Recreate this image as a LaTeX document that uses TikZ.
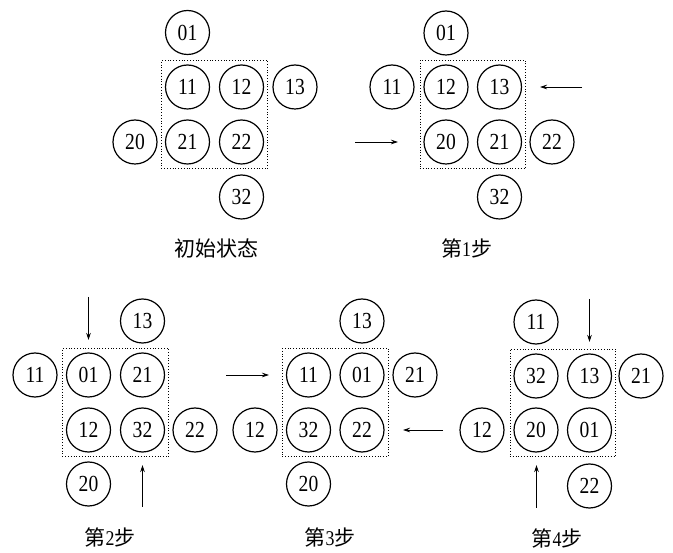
\documentclass[tikz,border=0pt]{standalone}
\usepackage{fontspec}
\usepackage{graphicx}
\setmainfont{Liberation Serif}
\newfontfamily\cjkfont{Noto Sans CJK SC}
\usetikzlibrary{arrows.meta,fit}
\newcommand\nm[1]{\scalebox{0.85}[1]{#1}}
\tikzset{
  ball/.style={circle, draw, line width=1.2pt, minimum size=44pt, inner sep=0pt,
    font=\fontsize{23}{23}\selectfont},
  grp/.style={draw, dotted, line width=0.8pt, inner xsep=3.5pt, inner ysep=4pt},
  mv/.style={-{Stealth[length=7pt,width=4.5pt]}, line width=0.7pt},
  steplabel/.style={font=\fontsize{21}{21}\selectfont}
}
\begin{document}
\begin{tikzpicture}[x=1pt,y=-1pt]
\useasboundingbox (0,0) rectangle (673,553);
% ---- initial state
\node[ball] (a01) at (187.5,32.5) {\nm{01}};
\node[ball] (a11) at (187.5,87) {\nm{11}};
\node[ball] (a12) at (241.5,87) {\nm{12}};
\node[ball] (a13) at (295,87) {\nm{13}};
\node[ball] (a20) at (135,142) {\nm{20}};
\node[ball] (a21) at (187.5,142) {\nm{21}};
\node[ball] (a22) at (241.5,142) {\nm{22}};
\node[ball] (a32) at (241.5,197) {\nm{32}};
\node[grp, fit=(a11)(a22)] (ga) {};
\node[steplabel] (la) at (216.7,248) {\cjkfont 初始状态};
% ---- step 1
\node[ball] (b01) at (446,33) {\nm{01}};
\node[ball] (b11) at (392,87) {\nm{11}};
\node[ball] (b12) at (446,87) {\nm{12}};
\node[ball] (b13) at (499.5,87) {\nm{13}};
\node[ball] (b20) at (446,142) {\nm{20}};
\node[ball] (b21) at (499.5,142) {\nm{21}};
\node[ball] (b22) at (552,142) {\nm{22}};
\node[ball] (b32) at (499.5,197) {\nm{32}};
\node[grp, fit=(b12)(b21)] (gb) {};
\node[steplabel] (lb) at (466.7,248) {{\cjkfont 第}\nm{1}{\cjkfont 步}};
\coordinate (b1s) at (355,142);
\coordinate (b1e) at (398,142);
\coordinate (b2s) at (582,87);
\coordinate (b2e) at (540,87);
\draw[mv] (b1s) -- (b1e);
\draw[mv] (b2s) -- (b2e);
% ---- step 2
\node[ball] (c13) at (142.5,321) {\nm{13}};
\node[ball] (c11) at (35,375) {\nm{11}};
\node[ball] (c01) at (88.5,375) {\nm{01}};
\node[ball] (c21) at (142.5,375) {\nm{21}};
\node[ball] (c12) at (88.5,430) {\nm{12}};
\node[ball] (c32) at (142.5,430) {\nm{32}};
\node[ball] (c22) at (195,430) {\nm{22}};
\node[ball] (c20) at (88.5,484) {\nm{20}};
\node[grp, fit=(c01)(c32)] (gc) {};
\node[steplabel] (lc) at (110,537) {{\cjkfont 第}\nm{2}{\cjkfont 步}};
\coordinate (c1s) at (88.5,297);
\coordinate (c1e) at (88.5,340);
\coordinate (c2s) at (142.5,507);
\coordinate (c2e) at (142.5,465);
\draw[mv] (c1s) -- (c1e);
\draw[mv] (c2s) -- (c2e);
% ---- step 3
\node[ball] (d13) at (362,321) {\nm{13}};
\node[ball] (d11) at (308.5,375) {\nm{11}};
\node[ball] (d01) at (362,375) {\nm{01}};
\node[ball] (d21) at (415,375) {\nm{21}};
\node[ball] (d12) at (255,430) {\nm{12}};
\node[ball] (d32) at (308.5,430) {\nm{32}};
\node[ball] (d22) at (362,430) {\nm{22}};
\node[ball] (d20) at (308.5,484) {\nm{20}};
\node[grp, fit=(d11)(d22)] (gd) {};
\node[steplabel] (ld) at (330,537) {{\cjkfont 第}\nm{3}{\cjkfont 步}};
\coordinate (d1s) at (226,375);
\coordinate (d1e) at (269,375);
\coordinate (d2s) at (443,430);
\coordinate (d2e) at (403,430);
\draw[mv] (d1s) -- (d1e);
\draw[mv] (d2s) -- (d2e);
% ---- step 4
\node[ball] (e11) at (536,322) {\nm{11}};
\node[ball] (e32) at (536,376) {\nm{32}};
\node[ball] (e13) at (589.5,376) {\nm{13}};
\node[ball] (e21) at (641,376) {\nm{21}};
\node[ball] (e12) at (482,430) {\nm{12}};
\node[ball] (e20) at (536,430) {\nm{20}};
\node[ball] (e01) at (589.5,430) {\nm{01}};
\node[ball] (e22) at (589.5,486) {\nm{22}};
\node[grp, fit=(e32)(e01)] (ge) {};
\node[steplabel] (le) at (557,538) {{\cjkfont 第}\nm{4}{\cjkfont 步}};
\coordinate (e1s) at (589.5,299);
\coordinate (e1e) at (589.5,342);
\coordinate (e2s) at (536.5,508);
\coordinate (e2e) at (536.5,465);
\draw[mv] (e1s) -- (e1e);
\draw[mv] (e2s) -- (e2e);
\end{tikzpicture}
\end{document}
